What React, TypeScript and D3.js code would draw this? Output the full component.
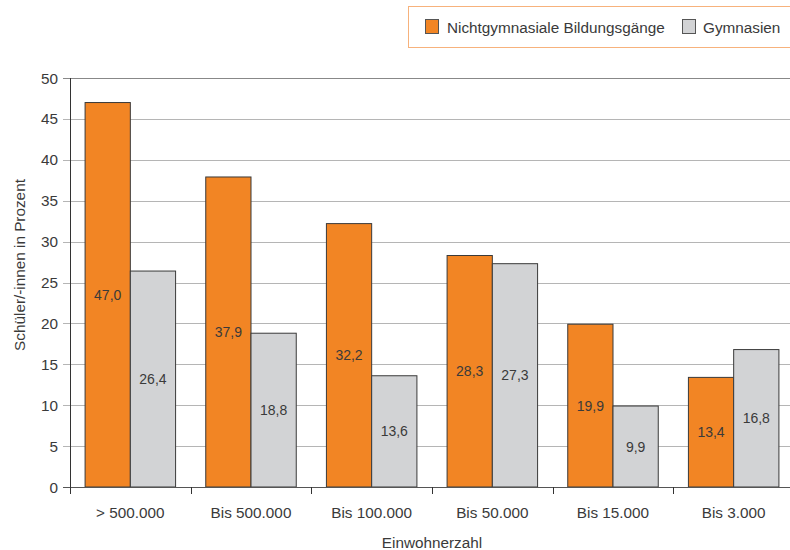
import React from 'react';
import * as d3 from 'd3';

const categories = ['> 500.000', 'Bis 500.000', 'Bis 100.000', 'Bis 50.000', 'Bis 15.000', 'Bis 3.000'];
const seriesNames = ['Nichtgymnasiale Bildungsgänge', 'Gymnasien'];
const nichtgymnasial = [47.0, 37.9, 32.2, 28.3, 19.9, 13.4];
const gymnasien = [26.4, 18.8, 13.6, 27.3, 9.9, 16.8];
const yTicks = [0, 5, 10, 15, 20, 25, 30, 35, 40, 45, 50];

const colors = ['#f28524', '#d2d3d5'];
const textColor = '#3a3a3a';
const font = '"Liberation Sans", Arial, sans-serif';

const App: React.FC = () => {
  const width = 790;
  const height = 550;
  const left = 70;
  const right = 794;
  const top = 78;
  const bottom = 487;
  const fs = 15.3;

  const x = d3.scaleBand<string>().domain(categories).range([left, right]).paddingInner(0.25).paddingOuter(0.125);
  const x0 = d3.scaleBand<string>().domain(categories).range([left, right]);
  const xs = d3.scaleBand<string>().domain(['0', '1']).range([0, x.bandwidth()]);
  const y = d3.scaleLinear().domain([0, 50]).range([bottom, top]);

  const series = [nichtgymnasial, gymnasien];
  const fmt = (v: number) => v.toFixed(1).replace('.', ',');

  return (
    <svg
      width={width}
      height={height}
      style={{ position: 'absolute', left: 0, top: 0, background: '#fff' }}
      fontFamily={font}
    >
      {/* legend */}
      <rect x={408.5} y={6.5} width={400} height={41} fill="#fff" stroke="#f7b27c" strokeWidth={1} />
      <rect x={425.5} y={19.5} width={13} height={14} fill={colors[0]} stroke="#555" />
      <text x={447} y={32.5} fontSize={fs} fill={textColor}>{seriesNames[0]}</text>
      <rect x={682.5} y={19.5} width={13} height={14} fill={colors[1]} stroke="#555" />
      <text x={703} y={32.5} fontSize={fs} fill={textColor}>{seriesNames[1]}</text>

      {/* grid + y ticks */}
      {yTicks.map((t) => (
        <g key={t}>
          <line x1={63} x2={width} y1={Math.round(y(t)) + 0.5} y2={Math.round(y(t)) + 0.5}
            stroke={t === 50 ? '#888' : '#b5b5b5'} strokeWidth={1} />
          <text x={58} y={y(t) + 5.5} textAnchor="end" fontSize={fs} fill={textColor}>{t}</text>
        </g>
      ))}

      {/* bars */}
      {categories.map((c, i) => (
        <g key={c}>
          {series.map((s, j) => {
            const bx = (x(c) ?? 0) + (xs(String(j)) ?? 0);
            const by = y(s[i]);
            return (
              <g key={j}>
                <rect x={bx} y={by} width={xs.bandwidth()} height={bottom - by}
                  fill={colors[j]} stroke="#3a3a3a" strokeWidth={1} />
                <text x={bx + xs.bandwidth() / 2} y={(by + bottom) / 2 + 5} textAnchor="middle"
                  fontSize={14} fill={textColor}>{fmt(s[i])}</text>
              </g>
            );
          })}
        </g>
      ))}

      {/* axes */}
      <line x1={left + 0.5} x2={left + 0.5} y1={top} y2={bottom + 7} stroke="#333" />
      <line x1={63} x2={width} y1={bottom + 0.5} y2={bottom + 0.5} stroke="#555" />
      {categories.map((c) => (
        <line key={c} x1={Math.round(x0(c) ?? 0) + 0.5} x2={Math.round(x0(c) ?? 0) + 0.5}
          y1={bottom} y2={bottom + 7} stroke="#333" />
      ))}
      {categories.map((c) => (
        <text key={c} x={(x0(c) ?? 0) + x0.bandwidth() / 2} y={518} textAnchor="middle"
          fontSize={fs} fill={textColor}>{c}</text>
      ))}

      {/* axis titles */}
      <text x={(left + right) / 2} y={548} textAnchor="middle" fontSize={fs} fill={textColor}>Einwohnerzahl</text>
      <text transform={`translate(25, 265) rotate(-90)`} textAnchor="middle" fontSize={fs} fill={textColor}>
        Schüler/-innen in Prozent
      </text>
    </svg>
  );
};

export default App;
